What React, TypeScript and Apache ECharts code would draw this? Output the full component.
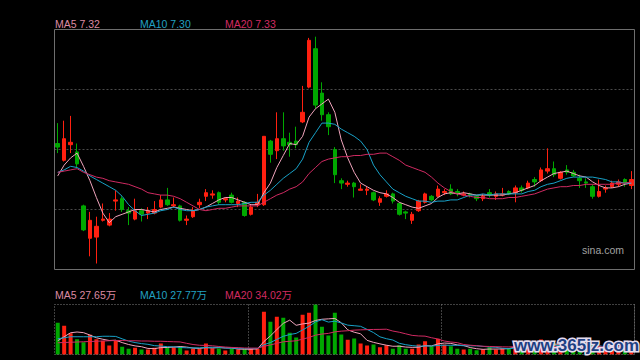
import React, { useEffect, useRef } from 'react';
import * as echarts from 'echarts';

// ---- price data (open, close, low, high) ----
const opens = [
  7.55, 7.41, 7.54, 7.48, 7.03, 6.76, 6.77, 6.91, 6.87, 7.07,
  7.09, 6.99, 6.92, 6.99, 6.97, 6.97, 7.02, 7.08, 7.03, 7.03,
  6.91, 6.94, 7.04, 7.11, 7.12, 7.14, 7.08, 7.12, 7.05, 7.06,
  6.96, 7.04, 7.04, 7.57, 7.49, 7.59, 7.56, 7.57, 7.73, 8.02,
  8.34, 7.97, 7.79, 7.50, 7.24, 7.21, 7.22, 7.16, 7.16, 7.14,
  7.06, 7.11, 7.13, 7.05, 6.98, 6.91, 6.99, 7.06, 7.11, 7.11,
  7.14, 7.17, 7.15, 7.12, 7.13, 7.11, 7.09, 7.14, 7.11, 7.12,
  7.15, 7.14, 7.18, 7.18, 7.25, 7.24, 7.32, 7.34, 7.26, 7.33,
  7.31, 7.26, 7.23, 7.19, 7.11, 7.17, 7.19, 7.21, 7.25, 7.20,
];
const closes = [
  7.52, 7.59, 7.56, 7.38, 6.83, 6.91, 6.86, 6.92, 6.92, 7.08,
  7.00, 6.97, 6.99, 6.96, 6.99, 7.00, 7.08, 7.04, 7.04, 6.91,
  6.92, 6.99, 7.06, 7.14, 7.13, 7.06, 7.09, 7.06, 7.07, 6.95,
  7.02, 7.06, 7.61, 7.46, 7.59, 7.53, 7.54, 7.54, 7.81, 8.41,
  7.87, 7.79, 7.69, 7.29, 7.22, 7.22, 7.19, 7.17, 7.17, 7.08,
  7.09, 7.13, 7.07, 6.96, 6.97, 6.96, 7.07, 7.13, 7.08, 7.17,
  7.15, 7.13, 7.14, 7.13, 7.12, 7.09, 7.11, 7.12, 7.13, 7.13,
  7.13, 7.18, 7.16, 7.22, 7.23, 7.33, 7.34, 7.29, 7.31, 7.31,
  7.28, 7.24, 7.22, 7.11, 7.15, 7.18, 7.22, 7.23, 7.22, 7.25,
];
const lows = [
  7.47, 7.40, 7.47, 7.35, 6.82, 6.61, 6.55, 6.90, 6.86, 6.99,
  6.98, 6.87, 6.91, 6.90, 6.92, 6.96, 7.01, 7.03, 7.02, 6.90,
  6.87, 6.93, 7.01, 7.07, 7.09, 7.04, 7.06, 7.05, 7.02, 6.94,
  6.95, 7.02, 7.03, 7.39, 7.42, 7.49, 7.44, 7.51, 7.72, 8.01,
  7.84, 7.74, 7.62, 7.22, 7.17, 7.19, 7.10, 7.16, 7.12, 7.07,
  7.03, 7.10, 7.05, 6.95, 6.92, 6.88, 6.98, 7.05, 7.07, 7.10,
  7.12, 7.12, 7.11, 7.11, 7.10, 7.07, 7.07, 7.10, 7.08, 7.11,
  7.12, 7.06, 7.14, 7.17, 7.19, 7.23, 7.30, 7.27, 7.25, 7.29,
  7.27, 7.18, 7.18, 7.09, 7.10, 7.14, 7.18, 7.19, 7.19, 7.17,
];
const highs = [
  7.72, 7.74, 7.78, 7.55, 7.04, 6.98, 6.94, 7.05, 6.97, 7.16,
  7.11, 7.02, 7.09, 7.01, 7.02, 7.07, 7.12, 7.18, 7.10, 7.04,
  6.95, 7.02, 7.09, 7.17, 7.16, 7.15, 7.10, 7.14, 7.10, 7.07,
  7.04, 7.13, 7.61, 7.58, 7.81, 7.81, 7.64, 7.69, 8.03, 8.43,
  8.44, 8.06, 7.81, 7.52, 7.26, 7.24, 7.23, 7.21, 7.19, 7.15,
  7.11, 7.16, 7.14, 7.06, 6.99, 6.98, 7.08, 7.14, 7.12, 7.20,
  7.17, 7.21, 7.17, 7.15, 7.14, 7.12, 7.13, 7.17, 7.15, 7.18,
  7.16, 7.20, 7.20, 7.24, 7.27, 7.35, 7.51, 7.40, 7.32, 7.37,
  7.33, 7.29, 7.26, 7.21, 7.25, 7.20, 7.24, 7.25, 7.26, 7.32,
];

// ---- price moving averages ----
const ma5 = [
  7.28, 7.37, 7.43, 7.47, 7.36, 7.24, 7.10, 6.97, 6.89, 6.94,
  6.96, 6.98, 7.00, 7.00, 6.99, 6.98, 7.00, 7.01, 7.02, 7.01,
  7.00, 6.99, 7.00, 7.02, 7.05, 7.08, 7.10, 7.10, 7.08, 7.06,
  7.04, 7.04, 7.14, 7.22, 7.35, 7.45, 7.55, 7.54, 7.61, 7.77,
  7.84, 7.88, 7.92, 7.81, 7.58, 7.43, 7.31, 7.22, 7.19, 7.16,
  7.14, 7.13, 7.10, 7.06, 7.04, 7.02, 7.01, 7.03, 7.05, 7.10,
  7.13, 7.14, 7.13, 7.14, 7.13, 7.12, 7.12, 7.12, 7.12, 7.12,
  7.13, 7.14, 7.16, 7.18, 7.20, 7.24, 7.27, 7.30, 7.31, 7.32,
  7.30, 7.28, 7.27, 7.23, 7.20, 7.18, 7.18, 7.19, 7.21, 7.22,
];
const ma10 = [
  7.31, 7.33, 7.36, 7.35, 7.32, 7.28, 7.25, 7.22, 7.19, 7.16,
  7.11, 7.04, 6.99, 6.95, 6.96, 6.97, 6.99, 7.00, 7.02, 7.00,
  6.99, 6.99, 7.00, 7.02, 7.03, 7.04, 7.04, 7.04, 7.04, 7.05,
  7.06, 7.06, 7.12, 7.16, 7.21, 7.26, 7.30, 7.34, 7.42, 7.56,
  7.64, 7.72, 7.72, 7.71, 7.67, 7.64, 7.61, 7.57, 7.50, 7.37,
  7.29, 7.23, 7.17, 7.14, 7.11, 7.09, 7.07, 7.07, 7.06, 7.07,
  7.07, 7.08, 7.08, 7.10, 7.12, 7.12, 7.13, 7.12, 7.13, 7.13,
  7.13, 7.13, 7.13, 7.15, 7.16, 7.19, 7.21, 7.22, 7.24, 7.26,
  7.27, 7.27, 7.27, 7.27, 7.26, 7.25, 7.23, 7.23, 7.22, 7.22,
];
const ma20 = [
  7.31, 7.32, 7.33, 7.34, 7.31, 7.29, 7.27, 7.26, 7.24, 7.23,
  7.22, 7.21, 7.19, 7.17, 7.14, 7.13, 7.12, 7.12, 7.11, 7.09,
  7.06, 7.03, 7.00, 6.99, 7.00, 7.01, 7.01, 7.02, 7.03, 7.03,
  7.03, 7.03, 7.06, 7.09, 7.12, 7.14, 7.17, 7.19, 7.23, 7.30,
  7.35, 7.40, 7.42, 7.43, 7.44, 7.44, 7.45, 7.45, 7.46, 7.46,
  7.47, 7.47, 7.44, 7.41, 7.37, 7.35, 7.33, 7.31, 7.27, 7.22,
  7.18, 7.15, 7.13, 7.12, 7.11, 7.10, 7.10, 7.09, 7.09, 7.09,
  7.10, 7.10, 7.11, 7.12, 7.13, 7.15, 7.17, 7.18, 7.19, 7.19,
  7.20, 7.20, 7.21, 7.21, 7.21, 7.21, 7.21, 7.22, 7.22, 7.23,
];

// ---- volume (万手) ----
const volumes = [
  127, 115, 85, 61, 49, 79, 61, 55, 36, 55,
  31, 23, 27, 20, 20, 27, 44, 29, 29, 31,
  16, 23, 23, 44, 24, 24, 16, 23, 20, 23,
  23, 23, 171, 131, 151, 147, 87, 68, 159, 167,
  200, 111, 76, 167, 80, 59, 64, 44, 36, 40,
  29, 37, 23, 37, 23, 23, 40, 53, 33, 63,
  40, 33, 23, 20, 23, 17, 20, 29, 20, 25,
  23, 55, 22, 26, 20, 60, 55, 45, 25, 22,
  20, 25, 18, 40, 35, 25, 30, 25, 28, 30,
];
const volMa5 = [
  55, 71, 87, 90, 87.4, 77.8, 67, 61, 56, 57.2,
  47.6, 40, 34.4, 31.2, 24.2, 23.4, 27.6, 28, 29.8, 32,
  29.8, 25.6, 24.4, 27.4, 26, 27.6, 26.2, 26.2, 21.4, 21.2,
  21, 22.4, 52, 74.2, 99.8, 124.6, 137.4, 116.8, 122.4, 125.6,
  136.2, 141, 142.6, 144.2, 126.8, 98.6, 89.2, 82.8, 56.6, 48.6,
  42.6, 37.2, 33, 33.2, 29.8, 28.6, 29.2, 35.2, 34.4, 42.4,
  45.8, 44.4, 38.4, 35.8, 27.8, 23.2, 20.6, 21.8, 21.8, 22.2,
  23.4, 30.4, 29, 30.2, 29.2, 36.6, 36.6, 41.2, 41, 41.4,
  33.4, 27.4, 22, 25, 27.6, 28.6, 29.6, 31, 28.6, 27.6,
];
const volMa10 = [
  63, 67, 71, 71, 71, 71, 71, 73, 73, 72.3,
  62.7, 53.5, 47.7, 43.6, 40.7, 35.5, 33.8, 31.2, 30.5, 28.1,
  26.6, 26.6, 26.2, 28.6, 29, 28.7, 25.9, 25.3, 24.4, 23.6,
  24.3, 24.3, 39.1, 47.8, 60.5, 72.8, 79.9, 84.4, 98.3, 112.7,
  130.4, 139.2, 129.7, 133.3, 126.2, 117.4, 115.1, 112.7, 100.4, 87.7,
  70.6, 63.2, 57.9, 44.9, 39.2, 35.6, 33.2, 34.1, 33.8, 36.1,
  37.2, 36.8, 36.8, 35.1, 35.1, 34.5, 32.5, 30.1, 28.8, 25,
  23.3, 25.5, 25.4, 26, 25.7, 30, 33.5, 35.1, 35.6, 35.3,
  35, 32, 31.6, 33, 34.5, 31, 28.5, 26.5, 26.8, 27.6,
];
const volMa20 = [
  47, 48, 49, 50, 51, 52, 53, 54, 55, 56,
  56, 55, 55, 54, 54, 53, 53, 52, 51, 50.2,
  44.7, 40, 37, 36.1, 34.9, 32.1, 29.9, 28.3, 27.5, 25.9,
  25.5, 25.5, 32.7, 38.2, 44.8, 50.8, 52.9, 54.9, 61.4, 68.2,
  77.4, 81.8, 84.4, 90.6, 93.4, 95.1, 97.5, 98.6, 99.4, 100.2,
  100.5, 101.2, 93.8, 89.1, 82.7, 76.5, 74.2, 73.4, 67.1, 61.9,
  53.9, 50, 47.4, 40, 37.2, 35.1, 32.9, 32.1, 31.3, 30.6,
  30.3, 31.2, 31.1, 30.6, 30.4, 32.3, 33, 32.6, 32.2, 30.2,
  29.2, 28.8, 28.5, 29.5, 30.1, 30.5, 31, 30.8, 31.2, 31.5,
];

const categories = opens.map((_, i) => String(i + 1));
const priceLegend = ['MA5 7.32', 'MA10 7.30', 'MA20 7.33'];
const volLegend = ['MA5 27.65万', 'MA10 27.77万', 'MA20 34.02万'];
const monthBreaks = [30, 60];

const UP = '#ff2010';
const DOWN = '#00a800';
const C5 = '#f0a4bc';
const C10 = '#18a2c8';
const C20 = '#d02a62';
const L5 = '#dc8aa2';
const L10 = '#22a0c2';
const L20 = '#d22a60';
const FONT = '"Liberation Sans", Arial, "Noto Sans CJK SC", sans-serif';

export default function App() {
  const ref = useRef<HTMLDivElement>(null);
  useEffect(() => {
    document.body.style.margin = '0';
    document.body.style.background = '#000';
    const chart = echarts.init(ref.current!, null, { renderer: 'svg' });
    const legendX = [55, 140, 225];
    const legendC = [L5, L10, L20];
    const graphics: any[] = [];
    priceLegend.forEach((t, i) =>
      graphics.push({
        type: 'text', x: legendX[i], y: 24.3, silent: true,
        style: { text: t, fill: legendC[i], font: `10.5px ${FONT}`, verticalAlign: 'middle' },
      })
    );
    volLegend.forEach((t, i) =>
      graphics.push({
        type: 'text', x: legendX[i], y: 295, silent: true,
        style: { text: t, fill: legendC[i], font: `10.5px ${FONT}`, verticalAlign: 'middle' },
      })
    );
    graphics.push({
      type: 'rect', silent: true, z: 10,
      shape: { x: 54.5, y: 29.5, width: 580, height: 240 },
      style: { fill: 'none', stroke: '#6e6e6e', lineWidth: 1 },
    });
    graphics.push({
      type: 'rect', silent: true, z: 10,
      shape: { x: 54.5, y: 304.5, width: 580, height: 50 },
      style: { fill: 'none', stroke: '#808080', lineWidth: 1, lineDash: [1, 2] },
    });
    graphics.push({
      type: 'text', x: 582, y: 249.6, silent: true,
      style: { text: 'sina.com', fill: '#a0a0a0', font: `10.5px ${FONT}`, verticalAlign: 'middle' },
    });
    graphics.push({
      type: 'text', x: 514, y: 345.5, silent: true, z: 20,
      style: {
        text: 'www.365jz.com', fill: '#1e3f82', stroke: '#e4dcee', lineWidth: 3,
        strokeFirst: true, font: `bold 17px ${FONT}`, verticalAlign: 'middle',
      },
    });

    const hidden = { show: false };
    const option: any = {
      animation: false,
      backgroundColor: '#000',
      graphic: graphics,
      grid: [
        { left: 54.5, top: 29.5, width: 580, height: 240, show: false },
        { left: 54.5, top: 304.5, width: 580, height: 50, show: false },
      ],
      xAxis: [
        {
          type: 'category', gridIndex: 0, data: categories, boundaryGap: true,
          axisLine: hidden, axisTick: hidden, axisLabel: hidden, splitLine: hidden,
        },
        {
          type: 'category', gridIndex: 1, data: categories, boundaryGap: true,
          axisLine: hidden, axisTick: hidden, axisLabel: hidden,
          splitLine: {
            show: true,
            interval: (idx: number) => monthBreaks.includes(idx),
            lineStyle: { color: '#808080', type: [1, 2], width: 1 },
          },
        },
      ],
      yAxis: [
        {
          type: 'value', gridIndex: 0, min: 6.5, max: 8.5, interval: 0.5, scale: true,
          axisLine: hidden, axisTick: hidden, axisLabel: hidden,
          splitLine: {
            show: true, showMinLine: false, showMaxLine: false,
            lineStyle: { color: '#4a4a4a', type: [2, 2], width: 1 },
          },
        },
        {
          type: 'value', gridIndex: 1, min: 0, max: 200,
          axisLine: hidden, axisTick: hidden, axisLabel: hidden, splitLine: hidden,
        },
      ],
      series: [
        {
          type: 'candlestick', xAxisIndex: 0, yAxisIndex: 0, barWidth: 4,
          data: opens.map((o, i) => [o, closes[i], lows[i], highs[i]]),
          itemStyle: { color: UP, color0: DOWN, borderColor: UP, borderColor0: DOWN, borderWidth: 1 },
        },
        { type: 'line', name: 'MA5', xAxisIndex: 0, yAxisIndex: 0, data: ma5, symbol: 'none', lineStyle: { color: C5, width: 1 }, z: 3 },
        { type: 'line', name: 'MA10', xAxisIndex: 0, yAxisIndex: 0, data: ma10, symbol: 'none', lineStyle: { color: C10, width: 1 }, z: 3 },
        { type: 'line', name: 'MA20', xAxisIndex: 0, yAxisIndex: 0, data: ma20, symbol: 'none', lineStyle: { color: C20, width: 1 }, z: 3 },
        {
          type: 'bar', xAxisIndex: 1, yAxisIndex: 1, barWidth: 4,
          data: volumes.map((v, i) => ({
            value: v,
            itemStyle: { color: closes[i] >= opens[i] ? UP : DOWN },
          })),
        },
        { type: 'line', xAxisIndex: 1, yAxisIndex: 1, data: volMa5, symbol: 'none', lineStyle: { color: C5, width: 1 }, z: 3 },
        { type: 'line', xAxisIndex: 1, yAxisIndex: 1, data: volMa10, symbol: 'none', lineStyle: { color: C10, width: 1 }, z: 3 },
        { type: 'line', xAxisIndex: 1, yAxisIndex: 1, data: volMa20, symbol: 'none', lineStyle: { color: C20, width: 1 }, z: 3 },
      ],
    };
    chart.setOption(option);
    return () => chart.dispose();
  }, []);
  return (
    <div
      ref={ref}
      style={{ position: 'fixed', left: 0, top: 0, width: 640, height: 360, background: '#000' }}
    />
  );
}
